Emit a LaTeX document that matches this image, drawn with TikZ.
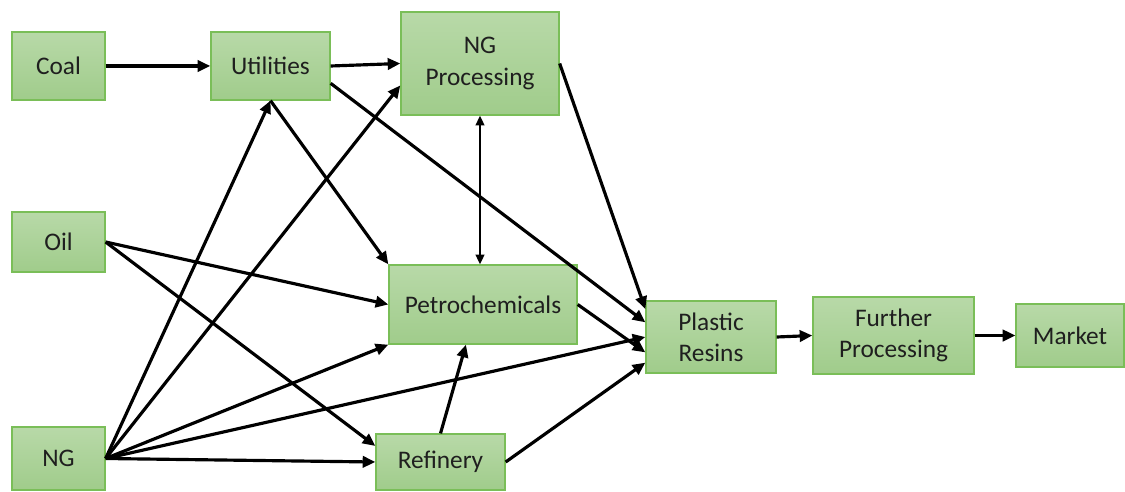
\documentclass[tikz,border=0pt]{standalone}
\usepackage{fontspec}
\setmainfont{Carlito}
\usetikzlibrary{arrows.meta,calc}
\definecolor{boxtop}{RGB}{184,217,168}
\definecolor{boxbot}{RGB}{160,204,139}
\definecolor{boxline}{RGB}{122,190,88}
\begin{document}
\begin{tikzpicture}[x=0.01cm,y=-0.01cm,
    box/.style={draw=boxline,line width=0.35pt,top color=boxtop,bottom color=boxbot,
        inner sep=0pt,align=center,text=black!88,font=\fontsize{7.2}{8.9}\selectfont},
    flow/.style={line width=0.9pt,-{Triangle[length=3.6pt,width=3.2pt]}},
    both/.style={line width=0.55pt,{Triangle[length=2.8pt,width=2.5pt]}-{Triangle[length=2.8pt,width=2.5pt]}}]
\useasboundingbox (0,0) rectangle (1125,491);
\node[box,minimum width=0.93cm,minimum height=0.68cm] (coal) at (58.5,66) {Coal};
\node[box,minimum width=1.19cm,minimum height=0.68cm] (util) at (270.5,66) {Utilities};
\node[box,minimum width=1.58cm,minimum height=1.03cm] (ngp) at (480,63.5) {NG\\Processing};
\node[box,minimum width=0.93cm,minimum height=0.60cm] (oil) at (58.5,242) {Oil};
\node[box,minimum width=1.88cm,minimum height=0.79cm] (petro) at (483,304.5) {Petrochemicals};
\node[box,minimum width=1.30cm,minimum height=0.72cm] (plastic) at (711,337) {Plastic\\Resins};
\node[box,minimum width=1.61cm,minimum height=0.77cm] (further) at (893.5,335.5) {Further\\Processing};
\node[box,minimum width=1.08cm,minimum height=0.63cm] (market) at (1070,335.5) {Market};
\node[box,minimum width=0.93cm,minimum height=0.63cm] (ng) at (58.5,458.5) {NG};
\node[box,minimum width=1.29cm,minimum height=0.56cm] (ref) at (440.5,462) {Refinery};
\draw[flow] (coal.east) -- (util.west);
\draw[flow] (util.east) -- (ngp.west);
\draw[flow] ($(util.north east)!0.75!(util.south east)$) -- ($(plastic.north west)!0.3!(plastic.south west)$);
\draw[flow] (util.south) -- (petro.north west);
\draw[both] (ngp.south) -- (ngp.south |- petro.north);
\draw[flow] (ngp.east) -- ($(plastic.north west)!0.12!(plastic.south west)$);
\draw[flow] (oil.east) -- (petro.west);
\draw[flow] (oil.east) -- ($(ref.north west)!0.22!(ref.south west)$);
\draw[flow] (ng.east) -- (util.south);
\draw[flow] (ng.east) -- ($(ngp.north west)!0.71!(ngp.south west)$);
\draw[flow] (ng.east) -- (petro.south west);
\draw[flow] (ng.east) -- (plastic.west);
\draw[flow] (ng.east) -- (ref.west);
\draw[flow] (ref.north) -- ($(petro.south west)!0.41!(petro.south east)$);
\draw[flow] (ref.east) -- ($(plastic.north west)!0.85!(plastic.south west)$);
\draw[flow] (petro.east) -- ($(plastic.north west)!0.71!(plastic.south west)$);
\draw[flow] (plastic.east) -- (further.west);
\draw[flow] (further.east) -- (market.west);
\end{tikzpicture}
\end{document}
